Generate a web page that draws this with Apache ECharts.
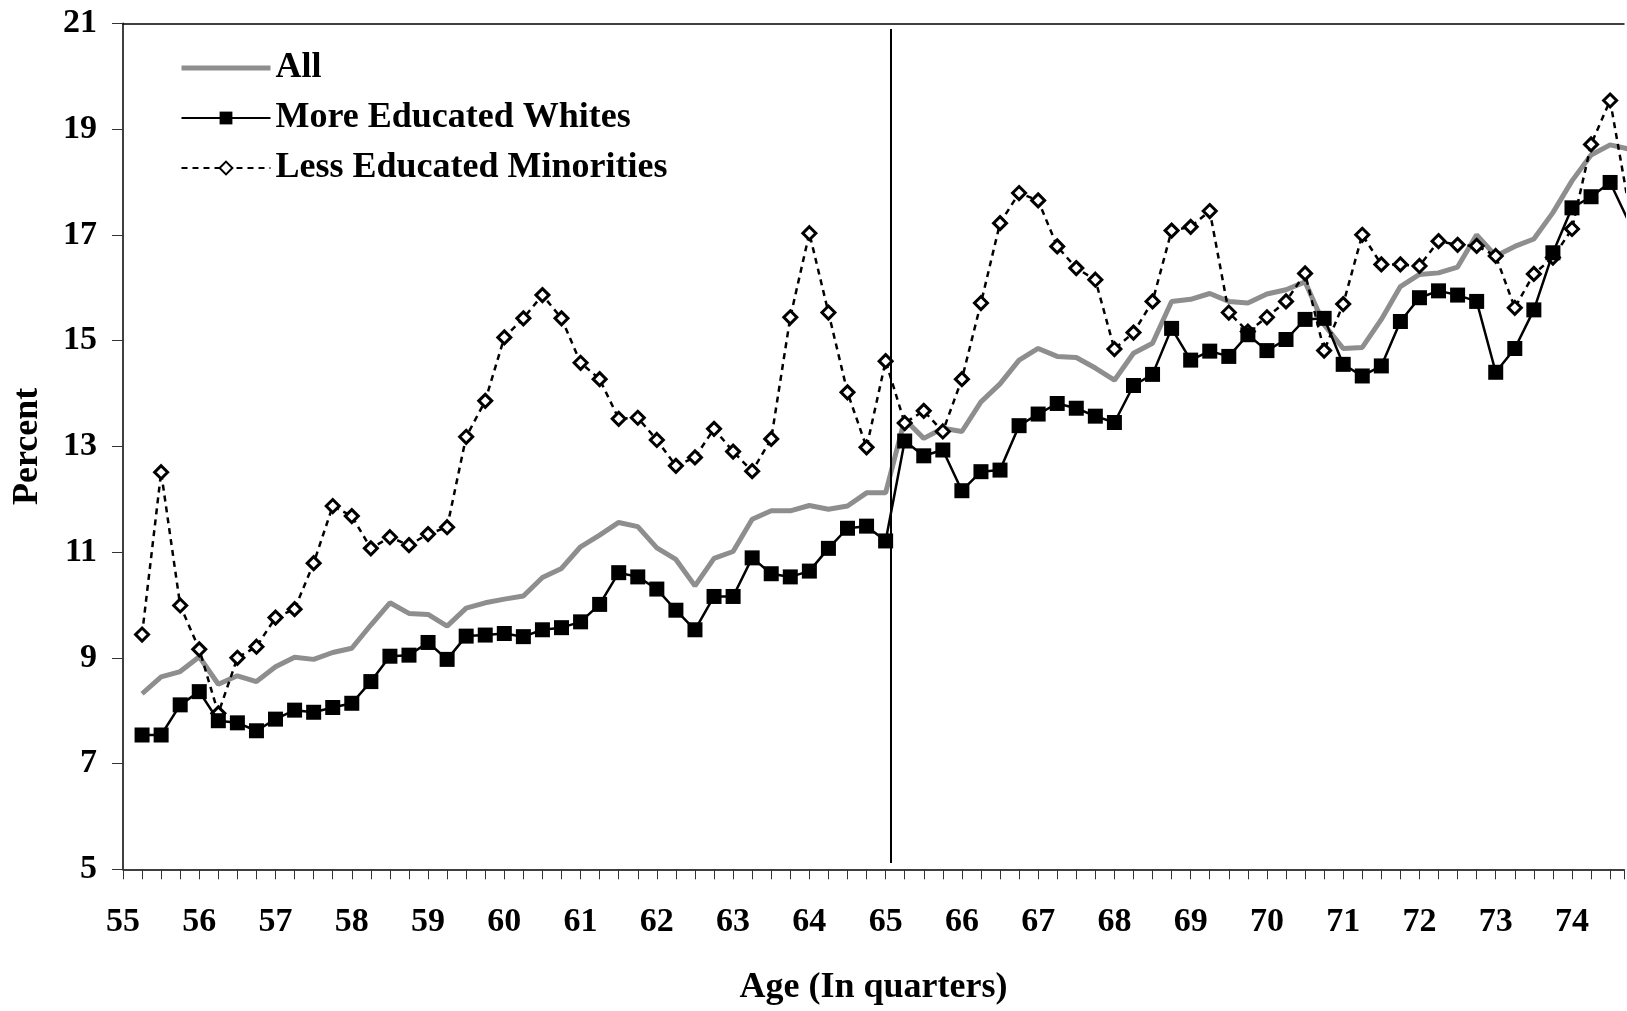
<!DOCTYPE html>
<html>
<head>
  <meta charset="utf-8">
  <title>Percent by age in quarters</title>
  <script src="https://cdn.jsdelivr.net/npm/echarts@6/dist/echarts.min.js"></script>
  <style>
    html, body { margin: 0; padding: 0; background: #fff; }
    #main { width: 1627px; height: 1011px; }
  </style>
</head>
<body>
  <div id="main"></div>
  <script type="text/javascript">
    // age in quarters (x)
    var ages = [55.25, 55.5, 55.75, 56, 56.25, 56.5, 56.75, 57, 57.25, 57.5, 57.75, 58,
      58.25, 58.5, 58.75, 59, 59.25, 59.5, 59.75, 60, 60.25, 60.5, 60.75, 61,
      61.25, 61.5, 61.75, 62, 62.25, 62.5, 62.75, 63, 63.25, 63.5, 63.75, 64,
      64.25, 64.5, 64.75, 65, 65.25, 65.5, 65.75, 66, 66.25, 66.5, 66.75, 67,
      67.25, 67.5, 67.75, 68, 68.25, 68.5, 68.75, 69, 69.25, 69.5, 69.75, 70,
      70.25, 70.5, 70.75, 71, 71.25, 71.5, 71.75, 72, 72.25, 72.5, 72.75, 73,
      73.25, 73.5, 73.75, 74, 74.25, 74.5, 74.75];

    var allPeople = [8.32, 8.64, 8.74, 9.02, 8.50, 8.66, 8.55, 8.83, 9.01, 8.97, 9.10, 9.18,
      9.62, 10.04, 9.84, 9.82, 9.60, 9.94, 10.04, 10.11, 10.17, 10.52, 10.69, 11.10,
      11.32, 11.56, 11.48, 11.08, 10.86, 10.36, 10.88, 11.01, 11.62, 11.78, 11.78, 11.88,
      11.81, 11.87, 12.12, 12.12, 13.51, 13.15, 13.34, 13.28, 13.84, 14.18, 14.63, 14.85,
      14.70, 14.68, 14.48, 14.25, 14.76, 14.95, 15.74, 15.78, 15.89, 15.74, 15.71, 15.88,
      15.96, 16.11, 15.30, 14.85, 14.87, 15.40, 16.02, 16.25, 16.28, 16.39, 17.00, 16.60,
      16.78, 16.92, 17.42, 18.02, 18.51, 18.70, 18.62];

    var moreEduWhites = [7.54, 7.54, 8.11, 8.36, 7.81, 7.77, 7.62, 7.84, 8.01, 7.97, 8.06, 8.14,
      8.55, 9.03, 9.05, 9.29, 8.97, 9.41, 9.43, 9.46, 9.40, 9.53, 9.57, 9.68,
      10.01, 10.61, 10.53, 10.30, 9.90, 9.53, 10.16, 10.16, 10.89, 10.59, 10.53, 10.64,
      11.07, 11.45, 11.49, 11.21, 13.10, 12.82, 12.93, 12.16, 12.52, 12.55, 13.39, 13.61,
      13.81, 13.72, 13.57, 13.45, 14.15, 14.36, 15.23, 14.63, 14.80, 14.70, 15.11, 14.81,
      15.02, 15.40, 15.42, 14.55, 14.33, 14.52, 15.36, 15.81, 15.94, 15.86, 15.74, 14.40,
      14.85, 15.58, 16.66, 17.51, 17.72, 17.99, 17.23];

    var lessEduMinorities = [9.44, 12.51, 9.99, 9.16, 7.95, 9.00, 9.21, 9.76, 9.92, 10.79, 11.87, 11.68,
      11.07, 11.28, 11.13, 11.34, 11.47, 13.18, 13.86, 15.06, 15.42, 15.86, 15.42, 14.58,
      14.27, 13.52, 13.54, 13.12, 12.63, 12.79, 13.33, 12.90, 12.53, 13.14, 15.44, 17.03,
      15.53, 14.02, 12.98, 14.61, 13.44, 13.67, 13.28, 14.27, 15.71, 17.22, 17.79, 17.65,
      16.78, 16.37, 16.15, 14.84, 15.15, 15.74, 17.08, 17.15, 17.45, 15.53, 15.17, 15.44,
      15.74, 16.27, 14.81, 15.69, 17.00, 16.44, 16.44, 16.41, 16.88, 16.81, 16.79, 16.60,
      15.62, 16.26, 16.57, 17.11, 18.71, 19.54, 17.50];

    var yTicks = [5, 7, 9, 11, 13, 15, 17, 19, 21];
    var cutoffAge = 65.065;
    // the original picture is cut off just before the last quarter
    var xMin = 55, xMax = 74.682;

    function pairs(vals) {
      return ages.map(function (a, i) { return [a, vals[i]]; });
    }

    var font = "'Liberation Serif', 'DejaVu Serif', serif";
    var myChart = echarts.init(document.getElementById('main'));

    var option = {
      animation: false,
      backgroundColor: '#fff',
      textStyle: { fontFamily: font },
      legend: {
        orient: 'vertical',
        left: 174,
        top: 45,
        itemWidth: 89,
        itemHeight: 16,
        itemGap: 14,
        data: [
          { name: 'All', itemStyle: { opacity: 0 }, lineStyle: { width: 5 } },
          { name: 'More Educated Whites' },
          { name: 'Less Educated Minorities' }
        ],
        textStyle: { fontFamily: font, fontSize: 36, fontWeight: 'bold', color: '#000', lineHeight: 36 }
      },
      grid: { left: 123, top: 23.3, bottom: 141.7, right: 0 },
      xAxis: [{
        type: 'value',
        min: xMin,
        max: xMax,
        interval: 1,
        name: 'Age (In quarters)',
        nameLocation: 'middle',
        nameGap: 100,
        nameTextStyle: { fontFamily: font, fontSize: 36, fontWeight: 'bold', color: '#000' },
        axisLine: { show: true, lineStyle: { color: '#000', width: 1.5 } },
        axisTick: { show: true, length: 10, lineStyle: { color: '#333', width: 1 } },
        minorTick: { show: true, splitNumber: 4, length: 10, lineStyle: { color: '#333', width: 1 } },
        splitLine: { show: false },
        axisLabel: {
          margin: 36, fontFamily: font, fontSize: 34, fontWeight: 'bold', color: '#000',
          formatter: function (v) { return Math.round(v) === v ? String(v) : ''; }
        }
      }, {
        type: 'value',
        position: 'top',
        min: xMin,
        max: xMax,
        axisLine: { show: true, lineStyle: { color: '#000', width: 1.5 } },
        axisTick: { show: false },
        axisLabel: { show: false },
        splitLine: { show: false }
      }],
      yAxis: {
        type: 'value',
        min: yTicks[0],
        max: yTicks[yTicks.length - 1],
        interval: 2,
        name: 'Percent',
        nameLocation: 'middle',
        nameGap: 77,
        nameTextStyle: { fontFamily: font, fontSize: 36, fontWeight: 'bold', color: '#000' },
        axisLine: { show: true, lineStyle: { color: '#000', width: 1.5 } },
        axisTick: { show: true, length: 11, lineStyle: { color: '#333', width: 1 } },
        splitLine: { show: false },
        axisLabel: { margin: 26, fontFamily: font, fontSize: 34, fontWeight: 'bold', color: '#000' }
      },
      series: [{
        name: 'All',
        type: 'line',
        data: pairs(allPeople),
        symbol: 'none',
        clip: true,
        lineStyle: { color: '#8e8e8e', width: 5 },
        itemStyle: { color: '#8e8e8e' },
        z: 2,
        markLine: {
          silent: true,
          symbol: 'none',
          label: { show: false },
          lineStyle: { color: '#000', width: 2, type: 'solid' },
          data: [[{ coord: [cutoffAge, 20.89] }, { coord: [cutoffAge, 5.12] }]]
        }
      }, {
        name: 'Less Educated Minorities',
        type: 'line',
        data: pairs(lessEduMinorities),
        symbol: 'diamond',
        symbolSize: 13,
        clip: true,
        lineStyle: { color: '#000', width: 2.5, type: [6, 5] },
        itemStyle: { color: '#fff', borderColor: '#000', borderWidth: 3 },
        z: 3
      }, {
        name: 'More Educated Whites',
        type: 'line',
        data: pairs(moreEduWhites),
        symbol: 'rect',
        symbolSize: 15,
        clip: true,
        lineStyle: { color: '#000', width: 2.5 },
        itemStyle: { color: '#000' },
        z: 4
      }]
    };

    myChart.setOption(option);
  </script>
</body>
</html>
